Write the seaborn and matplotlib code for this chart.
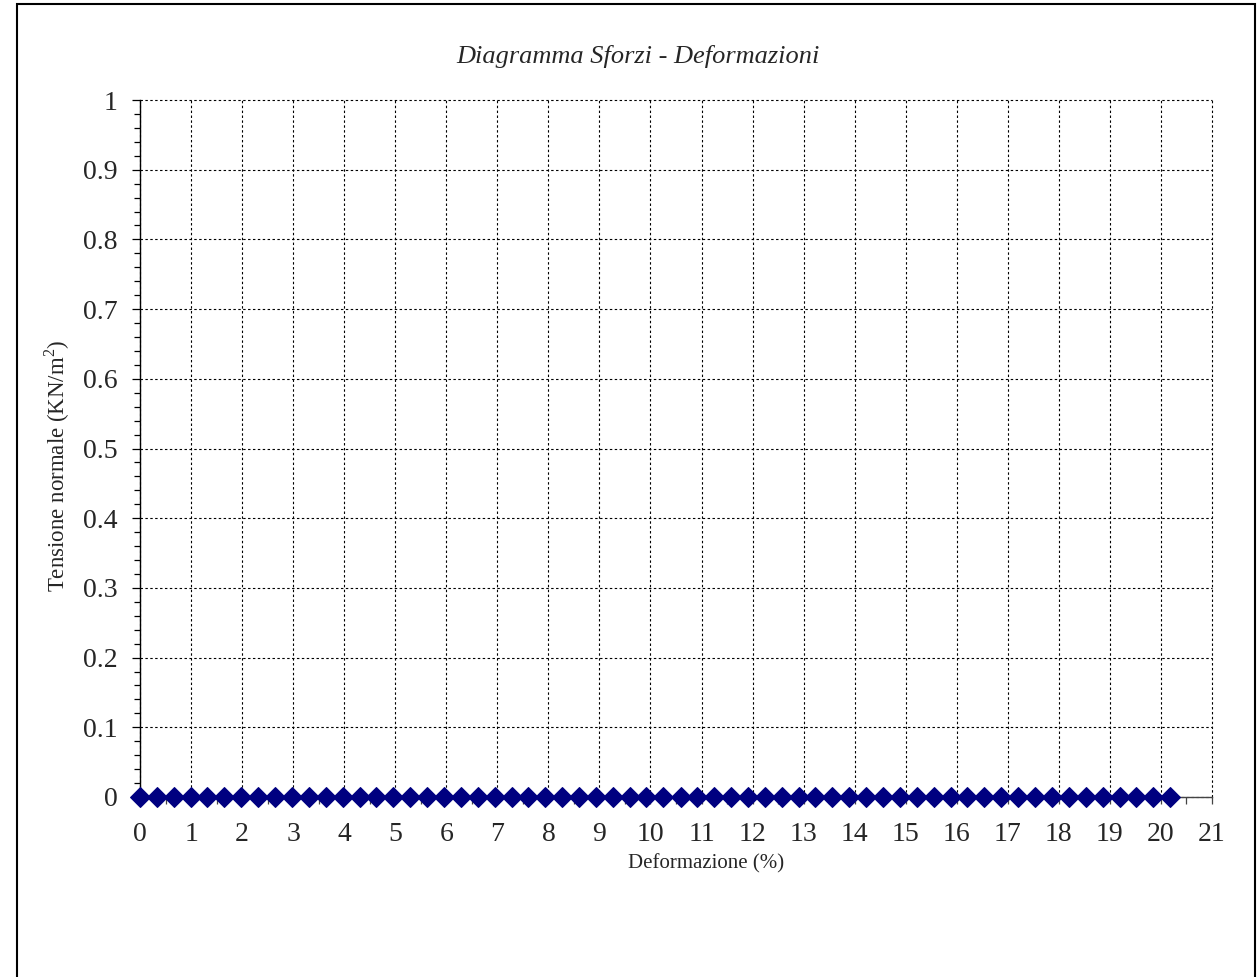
import numpy as np
import pandas as pd
import matplotlib
matplotlib.use("Agg")
import matplotlib.pyplot as plt
from matplotlib.patches import Rectangle
from matplotlib.ticker import MultipleLocator, FixedLocator
import seaborn as sns

# ---- data ----
deformazione = [0.00, 0.33, 0.66, 0.99, 1.32, 1.65, 1.98, 2.32, 2.65, 2.98,
                3.31, 3.64, 3.97, 4.30, 4.63, 4.96, 5.29, 5.62, 5.95, 6.29,
                6.62, 6.95, 7.28, 7.61, 7.94, 8.27, 8.60, 8.93, 9.26, 9.59,
                9.92, 10.25, 10.59, 10.92, 11.25, 11.58, 11.91, 12.24, 12.57, 12.90,
                13.23, 13.56, 13.89, 14.22, 14.56, 14.89, 15.22, 15.55, 15.88, 16.21,
                16.54, 16.87, 17.20, 17.53, 17.86, 18.19, 18.53, 18.86, 19.19, 19.52,
                19.85, 20.18]
tensione = [0.0] * len(deformazione)
x_ticks = list(range(0, 22))
y_ticks = [0, 0.1, 0.2, 0.3, 0.4, 0.5, 0.6, 0.7, 0.8, 0.9, 1]
y_tick_labels = ["0", "0.1", "0.2", "0.3", "0.4", "0.5", "0.6", "0.7", "0.8", "0.9", "1"]
title = "Diagramma Sforzi - Deformazioni"
x_label = "Deformazione (%)"
y_label = "Tensione normale (KN/m$^2$)"

df = pd.DataFrame({"x": deformazione, "y": tensione})

sns.set_style("white")
plt.rcParams["font.family"] = ["Liberation Serif", "DejaVu Serif"]
plt.rcParams["mathtext.fontset"] = "custom"
plt.rcParams["mathtext.rm"] = "Liberation Serif"

W, H = 1258, 977
fig = plt.figure(figsize=(W / 100, H / 100), dpi=100)
fig.patch.set_facecolor("white")

ax = fig.add_axes([140 / W, 1 - 797 / H, (1212 - 140) / W, (797 - 100) / H])

sns.lineplot(data=df, x="x", y="y", ax=ax, color="#1a1aff", linewidth=1.0,
             marker="D", markersize=9.8, markerfacecolor="#000080",
             markeredgecolor="#000080", clip_on=False, zorder=5)

ax.set_xlim(0, 21)
ax.set_ylim(0, 1)
ax.xaxis.set_major_locator(FixedLocator(x_ticks))
ax.set_xticklabels([str(v) for v in x_ticks])
ax.xaxis.set_minor_locator(MultipleLocator(0.5))
ax.yaxis.set_major_locator(FixedLocator(y_ticks))
ax.set_yticklabels(y_tick_labels)
ax.yaxis.set_minor_locator(MultipleLocator(0.02))

ax.grid(True, which="major", color="black", linestyle=(0, (2.2, 2.2)), linewidth=0.8)
ax.set_axisbelow(True)
for gl in ax.get_xgridlines() + ax.get_ygridlines():
    gl.set_clip_on(False)

for s in ["top", "right"]:
    ax.spines[s].set_visible(False)
ax.spines["left"].set_color("black")
ax.spines["left"].set_linewidth(1.0)
ax.spines["bottom"].set_color("#444444")
ax.spines["bottom"].set_linewidth(1.0)

ax.tick_params(axis="y", which="major", direction="out", length=6, width=0.9,
               color="black", labelsize=20, pad=10, left=True)
ax.tick_params(axis="y", which="minor", direction="out", length=4, width=0.9,
               color="black", left=True)
ax.tick_params(axis="x", which="major", direction="out", length=5, width=0.9,
               color="#444444", labelsize=20, pad=13, bottom=True)
ax.tick_params(axis="x", which="minor", direction="out", length=5, width=0.9,
               color="#444444", bottom=True)
ax.set_xlabel("")
ax.set_ylabel("")

fig.text(638 / W, 1 - 56 / H, title, ha="center", va="center",
         fontsize=19, fontstyle="italic")
fig.text(706 / W, 1 - 864 / H, x_label, ha="center", va="center", fontsize=15)
fig.text(57 / W, 1 - 466 / H, y_label, ha="center", va="center",
         fontsize=16.5, rotation=90)

fig.add_artist(Rectangle((17 / W, -0.02), (1255 - 17) / W, 1 - 4.5 / H + 0.02,
                         transform=fig.transFigure, fill=False,
                         edgecolor="black", linewidth=1.5))

fig.savefig("out.png", dpi=100, facecolor="white")
